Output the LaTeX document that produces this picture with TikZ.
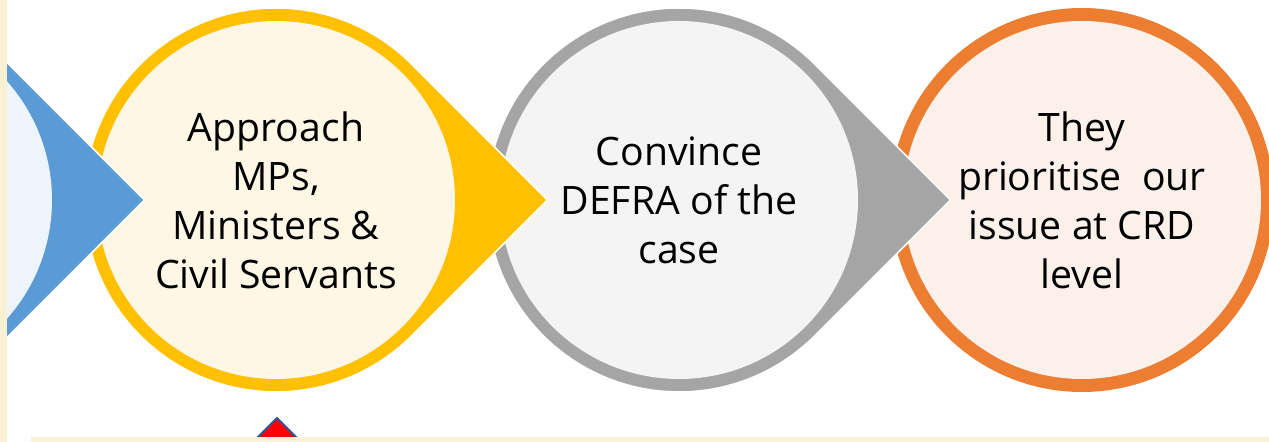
\documentclass[tikz,border=0pt]{standalone}
\usepackage{fontspec}
\setmainfont{Open Sans}
\usepackage{xcolor}
\definecolor{ringblue}{HTML}{5B9BD5}
\definecolor{fillblue}{HTML}{EEF4FB}
\definecolor{ringyellow}{HTML}{FFC000}
\definecolor{fillyellow}{HTML}{FFF7E5}
\definecolor{ringgrey}{HTML}{A5A5A5}
\definecolor{fillgrey}{HTML}{F4F4F4}
\definecolor{ringorange}{HTML}{ED7D31}
\definecolor{fillorange}{HTML}{FBF0EA}
\definecolor{cream}{HTML}{FAF1D5}
\definecolor{edgeblue}{HTML}{2F5597}
\tikzset{
  drop/.style={fill=#1, draw=white, line width=0.9pt},
  stagetext/.style={align=center, font=\fontsize{22.3}{27.9}\selectfont, text=black},
}

\begin{document}
\begin{tikzpicture}[x=0.02cm,y=0.02cm]
	\clip (0,0) rectangle (1269,442);
	\fill[ringorange] (1082,242) circle[radius=192];
	\fill[fillorange] (1082,242) circle[radius=179];
	\foreach \c/\r/\f in {679/ringgrey/fillgrey,276/ringyellow/fillyellow,-127/ringblue/fillblue} {
		\draw[drop=\r] (\c+271.5,242) -- (\c+135.8,377.8) arc[start angle=45,end angle=315,radius=192] -- cycle;
		\fill[\f] (\c,242) circle[radius=179];
	}
	\node[stagetext] (approach) at (276,242) {Approach\\MPs,\\Ministers \&\\Civil Servants};
	\node[stagetext] (convince) at (679,242) {Convince\\DEFRA of the\\case};
	\node[stagetext] (prioritise) at (1082,242) {They\\prioritise\ \ our\\issue at CRD\\level};
	\draw[fill=red, draw=edgeblue, line width=1.2pt] (257,4) -- (277,24) -- (297,4) -- cycle;
	\fill[cream] (31,0) rectangle (1269,5);
	\fill[cream] (0,0) rectangle (7,442);
\end{tikzpicture}
\end{document}
